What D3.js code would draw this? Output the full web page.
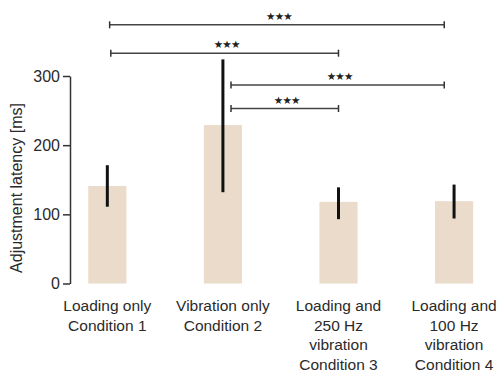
<!DOCTYPE html>
<html>
<head>
<meta charset="utf-8">
<script src="https://cdn.jsdelivr.net/npm/d3@7"></script>
<style>
  body { margin: 0; background: #fff; }
  svg { display: block; font-family: "Liberation Sans", Arial, sans-serif; }
</style>
</head>
<body>
<div id="chart"></div>
<script>
// ─── Data ────────────────────────────────────────────────────
const conditions = ["c1", "c2", "c3", "c4"];
const conditionLabels = [
  ["Loading only", "Condition 1"],
  ["Vibration only", "Condition 2"],
  ["Loading and", "250 Hz", "vibration", "Condition 3"],
  ["Loading and", "100 Hz", "vibration", "Condition 4"]
];
const means = [141, 229, 118, 119];
const errLow = [111, 132, 93, 94];
const errHigh = [171, 324, 139, 143];
const yTicks = [0, 100, 200, 300];

// significance brackets: from/to condition index, level in ms, end offsets in band steps
const brackets = [
  { from: 0, to: 3, level: 374, dFrom: 0.02, dTo: -0.085, label: "★★★" },
  { from: 0, to: 2, level: 333, dFrom: 0.03, dTo: 0,      label: "★★★" },
  { from: 1, to: 3, level: 287, dFrom: 0.07, dTo: -0.085, label: "★★★" },
  { from: 1, to: 2, level: 253, dFrom: 0.07, dTo: 0,      label: "★★★" }
];

// ─── Setup ───────────────────────────────────────────────────
const W = 497, H = 372;
const svg = d3.select("#chart").append("svg")
  .attr("width", W).attr("height", H);

const x = d3.scaleBand()
  .domain(conditions)
  .range([70, 491.4])
  .paddingInner(0.67)
  .paddingOuter(0.158);

const y = d3.scaleLinear()
  .domain([0, 300])
  .range([283.5, 76]);

const cx = i => x(conditions[i]) + x.bandwidth() / 2;

// ─── Bars ────────────────────────────────────────────────────
svg.append("g").selectAll("rect")
  .data(conditions)
  .join("rect")
  .attr("x", d => x(d))
  .attr("width", x.bandwidth())
  .attr("y", (d, i) => y(means[i]))
  .attr("height", (d, i) => y(0) - y(means[i]))
  .attr("fill", "#eadbca");

// ─── Error bars ──────────────────────────────────────────────
svg.append("g").selectAll("line")
  .data(conditions)
  .join("line")
  .attr("x1", (d, i) => cx(i))
  .attr("x2", (d, i) => cx(i))
  .attr("y1", (d, i) => y(errLow[i]))
  .attr("y2", (d, i) => y(errHigh[i]))
  .attr("stroke", "#111")
  .attr("stroke-width", 3);

// ─── Y axis ──────────────────────────────────────────────────
const yAxis = svg.append("g")
  .attr("transform", "translate(70,0)")
  .call(d3.axisLeft(y).tickValues(yTicks).tickSize(7).tickPadding(3).tickSizeOuter(0));
yAxis.select(".domain").attr("stroke", "#333").attr("stroke-width", 1.5);
yAxis.selectAll(".tick line").attr("stroke", "#333").attr("stroke-width", 1.5);
yAxis.selectAll(".tick text")
  .attr("fill", "#2a2a2a")
  .style("font-size", "16px")
  .style("font-family", "'Liberation Sans', Arial, sans-serif");

svg.append("text")
  .attr("transform", "translate(22,188) rotate(-90)")
  .attr("text-anchor", "middle")
  .attr("fill", "#2a2a2a")
  .style("font-size", "16px")
  .text("Adjustment latency [ms]");

// ─── X labels ────────────────────────────────────────────────
const xl = svg.append("g").selectAll("text")
  .data(conditions)
  .join("text")
  .attr("text-anchor", "middle")
  .attr("fill", "#2a2a2a")
  .style("font-size", "15.5px")
  .attr("x", (d, i) => cx(i))
  .attr("y", 311);
xl.selectAll("tspan")
  .data((d, i) => conditionLabels[i].map(t => ({ t, i })))
  .join("tspan")
  .attr("x", d => cx(d.i))
  .attr("dy", (d, j) => j === 0 ? 0 : 19.5)
  .text(d => d.t);

// ─── Significance brackets ───────────────────────────────────
const step = x.step();
const bg = svg.append("g").selectAll("g")
  .data(brackets)
  .join("g");
bg.append("line")
  .attr("x1", d => cx(d.from) + d.dFrom * step)
  .attr("x2", d => cx(d.to) + d.dTo * step)
  .attr("y1", d => y(d.level))
  .attr("y2", d => y(d.level))
  .attr("stroke", "#444")
  .attr("stroke-width", 1.6);
bg.append("line")
  .attr("x1", d => cx(d.from) + d.dFrom * step)
  .attr("x2", d => cx(d.from) + d.dFrom * step)
  .attr("y1", d => y(d.level) - 3.5)
  .attr("y2", d => y(d.level) + 3.5)
  .attr("stroke", "#333")
  .attr("stroke-width", 1.5);
bg.append("line")
  .attr("x1", d => cx(d.to) + d.dTo * step)
  .attr("x2", d => cx(d.to) + d.dTo * step)
  .attr("y1", d => y(d.level) - 3.5)
  .attr("y2", d => y(d.level) + 3.5)
  .attr("stroke", "#333")
  .attr("stroke-width", 1.5);
bg.append("text")
  .attr("x", d => (cx(d.from) + d.dFrom * step + cx(d.to) + d.dTo * step) / 2 + 2)
  .attr("y", d => y(d.level) - 5)
  .attr("text-anchor", "middle")
  .attr("fill", "#222")
  .style("font-family", "'DejaVu Sans', sans-serif")
  .style("font-size", "10.5px")
  .style("letter-spacing", "-0.8px")
  .text(d => d.label);
</script>
</body>
</html>
